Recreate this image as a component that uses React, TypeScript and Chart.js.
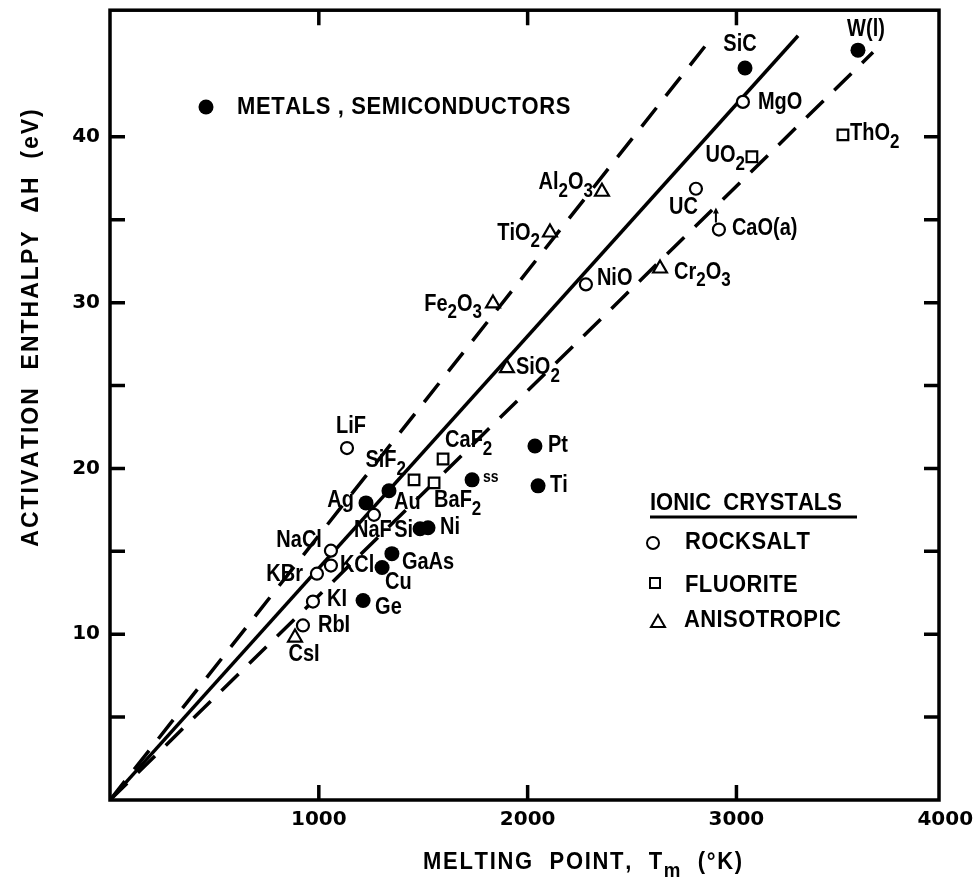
import React, { useEffect, useRef } from "react";
import { Chart, registerables } from "chart.js";

Chart.register(...registerables);

// ---------------- data ----------------
// Metals, semiconductors (filled circles)
const metalNames = ["SiC", "W(l)", "Pt", "Ti", "ss", "Au", "Ag", "Si", "Ni", "GaAs", "Cu", "Ge"];
const metalTm = [3041, 3582, 2035, 2050, 1734, 1336, 1226, 1485, 1523, 1350, 1303, 1212];
const metalDH = [44.15, 45.23, 21.35, 18.95, 19.31, 18.65, 17.92, 16.36, 16.42, 14.86, 14.02, 12.03];

// Ionic crystals - rocksalt (open circles)
const rocksaltNames = ["MgO", "UC", "CaO(a)", "NiO", "LiF", "NaF", "NaCl", "KCl", "KBr", "KI", "RbI"];
const rocksaltTm = [3031, 2806, 2916, 2279, 1135, 1264, 1058, 1058, 991, 972, 924];
const rocksaltDH = [42.11, 36.87, 34.41, 31.1, 21.23, 17.2, 15.04, 14.14, 13.65, 11.97, 10.53];

// Ionic crystals - fluorite (open squares)
const fluoriteNames = ["ThO_2", "UO_2", "CaF_2", "SiF_2", "BaF_2"];
const fluoriteTm = [3510, 3074, 1595, 1456, 1552];
const fluoriteDH = [40.12, 38.8, 20.57, 19.31, 19.13];

// Ionic crystals - anisotropic (open triangles)
const anisoNames = ["Al_2O_3", "TiO_2", "Cr_2O_3", "Fe_2O_3", "SiO_2", "CsI"];
const anisoTm = [2356, 2107, 2634, 1834, 1901, 886];
const anisoDH = [36.69, 34.23, 32.06, 29.95, 26.05, 9.8];

// Guide lines through the origin
const fitTm = [0, 3295];
const fitDH = [0, 46.1];
const upperTm = [0, 2883];
const upperDH = [0, 46.0];
const lowerTm = [0, 3654];
const lowerDH = [0, 45.1];

// Axes
const xTickValues = [1000, 2000, 3000, 4000];
const yTickValues = [10, 20, 30, 40];
const yMinorValues = [5, 15, 25, 35];
const xMin = 0;
const xMax = 3970;
const yMin = 0;
const yMax = 47.64;

// ---------------- label layout (pixel offsets from the mark) ----------------
type LP = [number, number, "l" | "r" | "c", number?];
const metalLabelPos: LP[] = [
  [-5, -23, "c"], [8, -20, "c"], [13, 0, "l"], [12, 0, "l"], [11, -2, "l", 14], [5, 12, "l"],
  [-12, -2, "r"], [-7, 2, "r"], [12, 0, "l"], [10, 9, "l"], [3, 15, "l"], [12, 7, "l"],
];
const rocksaltLabelPos: LP[] = [
  [15, 1, "l"], [2, 19, "r"], [13, -1, "l"], [11, -6, "l"], [4, -21, "c"], [-1, 16, "c"],
  [-9, -10, "r"], [9, 0, "l"], [-14, 1, "r"], [14, -2, "l"], [15, 0, "l"],
];
const fluoriteLabelPos: LP[] = [
  [7, -1, "l"], [-7, -1, "r"], [2, -18, "l"], [-8, -19, "r"], [0, 18, "l"],
];
const anisoLabelPos: LP[] = [
  [-9, -9, "r"], [-10, 1, "r"], [14, 4, "l"], [-11, 1, "r"], [9, 0, "l"], [9, 17, "c"],
];

const FONT = '"Liberation Sans", Arial, sans-serif';

function drawRich(
  ctx: CanvasRenderingContext2D,
  text: string,
  x: number,
  y: number,
  align: "l" | "r" | "c",
  size: number,
  spacing = 0,
  stretch = 1.12
) {
  const parts: { ch: string; sub: boolean }[] = [];
  for (let i = 0; i < text.length; i++) {
    if (text[i] === "_" && i + 1 < text.length) {
      parts.push({ ch: text[i + 1], sub: true });
      i++;
    } else parts.push({ ch: text[i], sub: false });
  }
  const subSize = size * 0.85;
  const widths = parts.map((p) => {
    ctx.font = `bold ${p.sub ? subSize : size}px ${FONT}`;
    return ctx.measureText(p.ch).width;
  });
  const total = widths.reduce((s, w) => s + w, 0) + spacing * (parts.length - 1);
  let cx = align === "l" ? x : align === "r" ? x - total : x - total / 2;
  ctx.save();
  ctx.translate(0, y);
  ctx.scale(1, stretch);
  ctx.textAlign = "left";
  ctx.textBaseline = "middle";
  ctx.fillStyle = "#000";
  parts.forEach((p, i) => {
    ctx.font = `bold ${p.sub ? subSize : size}px ${FONT}`;
    ctx.fillText(p.ch, cx, p.sub ? (size * 0.42) / stretch : 0);
    cx += widths[i] + spacing;
  });
  ctx.restore();
}

const overlay = {
  id: "overlay",
  afterDatasetsDraw(chart: any) {
    const { ctx, chartArea: a, scales } = chart;
    const xs = scales.x;
    const ys = scales.y;
    ctx.save();
    ctx.strokeStyle = "#000";
    ctx.fillStyle = "#000";

    // frame
    ctx.lineWidth = 3.5;
    ctx.strokeRect(a.left, a.top, a.right - a.left, a.bottom - a.top);

    // inward ticks
    const TL = 15;
    ctx.lineWidth = 3.5;
    ctx.beginPath();
    xTickValues
      .filter((v) => v < xMax)
      .forEach((v) => {
        const px = xs.getPixelForValue(v);
        ctx.moveTo(px, a.bottom);
        ctx.lineTo(px, a.bottom - TL);
        ctx.moveTo(px, a.top);
        ctx.lineTo(px, a.top + TL);
      });
    [...yTickValues, ...yMinorValues].forEach((v) => {
      const py = ys.getPixelForValue(v);
      ctx.moveTo(a.left, py);
      ctx.lineTo(a.left + TL, py);
      ctx.moveTo(a.right, py);
      ctx.lineTo(a.right - TL, py);
    });
    ctx.stroke();

    // point labels
    const series: [string[], number[], number[], LP[]][] = [
      [metalNames, metalTm, metalDH, metalLabelPos],
      [rocksaltNames, rocksaltTm, rocksaltDH, rocksaltLabelPos],
      [fluoriteNames, fluoriteTm, fluoriteDH, fluoriteLabelPos],
      [anisoNames, anisoTm, anisoDH, anisoLabelPos],
    ];
    series.forEach(([names, xsv, ysv, pos]) => {
      names.forEach((n, i) => {
        const px = xs.getPixelForValue(xsv[i]);
        const py = ys.getPixelForValue(ysv[i]);
        const [dx, dy, al, sz] = pos[i];
        drawRich(ctx, n, px + dx, py + dy, al, sz ?? 20, 0, 1.15);
      });
    });

    // CaO(a) small upward arrow
    {
      const i = rocksaltNames.indexOf("CaO(a)");
      const px = xs.getPixelForValue(rocksaltTm[i]);
      const py = ys.getPixelForValue(rocksaltDH[i]);
      ctx.lineWidth = 2;
      ctx.beginPath();
      ctx.moveTo(px - 3, py - 7);
      ctx.lineTo(px - 3, py - 18);
      ctx.stroke();
      ctx.beginPath();
      ctx.moveTo(px - 3, py - 22);
      ctx.lineTo(px - 6, py - 16);
      ctx.lineTo(px, py - 16);
      ctx.closePath();
      ctx.fill();
    }

    // legends
    ctx.beginPath();
    ctx.arc(206, 107, 7.5, 0, Math.PI * 2);
    ctx.fill();
    drawRich(ctx, "METALS , SEMICONDUCTORS", 237, 107, "l", 22, 0.6, 1.08);

    drawRich(ctx, "IONIC  CRYSTALS", 650, 503, "l", 22, 0, 1.08);
    ctx.lineWidth = 3;
    ctx.beginPath();
    ctx.moveTo(650, 517);
    ctx.lineTo(857, 517);
    ctx.stroke();

    ctx.lineWidth = 2;
    ctx.beginPath();
    ctx.arc(653, 543, 6, 0, Math.PI * 2);
    ctx.stroke();
    drawRich(ctx, "ROCKSALT", 685, 542, "l", 22, 0.4, 1.08);

    ctx.strokeRect(650, 578, 10, 10);
    drawRich(ctx, "FLUORITE", 685, 585, "l", 22, 0.4, 1.08);

    ctx.beginPath();
    ctx.moveTo(658, 615);
    ctx.lineTo(665, 627);
    ctx.lineTo(651, 627);
    ctx.closePath();
    ctx.stroke();
    drawRich(ctx, "ANISOTROPIC", 684, 620, "l", 22, 0.4, 1.08);

    // axis titles
    drawRich(ctx, "MELTING  POINT,  T_m  (°K)", 423, 862, "l", 22, 1.7, 1.08);
    ctx.save();
    ctx.translate(31, 328);
    ctx.rotate(-Math.PI / 2);
    drawRich(ctx, "ACTIVATION  ENTHALPY  ΔH  (eV)", 0, 0, "c", 23, 2, 1.05);
    ctx.restore();

    ctx.restore();
  },
};

const pts = (xv: number[], yv: number[]) => xv.map((x, i) => ({ x, y: yv[i] }));

export default function App() {
  const ref = useRef<HTMLCanvasElement>(null);
  useEffect(() => {
    if (!ref.current) return;
    const lineBase = {
      showLine: true,
      pointRadius: 0,
      borderColor: "#000",
      borderWidth: 3.5,
      fill: false,
      order: 5,
    };
    const markerBase = { borderColor: "#000", order: 1, hoverRadius: 0 };
    const chart = new Chart(ref.current, {
      type: "scatter",
      data: {
        datasets: [
          { ...lineBase, label: "fit", data: pts(fitTm, fitDH) } as any,
          { ...lineBase, label: "upper", borderDash: [24, 15], data: pts(upperTm, upperDH) } as any,
          { ...lineBase, label: "lower", borderDash: [24, 15], data: pts(lowerTm, lowerDH) } as any,
          {
            ...markerBase,
            label: "Metals, semiconductors",
            data: pts(metalTm, metalDH),
            pointStyle: "circle",
            pointRadius: 7.5,
            backgroundColor: "#000",
            borderWidth: 0,
          } as any,
          {
            ...markerBase,
            label: "Rocksalt",
            data: pts(rocksaltTm, rocksaltDH),
            pointStyle: "circle",
            pointRadius: 6,
            backgroundColor: "#fff",
            borderWidth: 2.2,
          } as any,
          {
            ...markerBase,
            label: "Fluorite",
            data: pts(fluoriteTm, fluoriteDH),
            pointStyle: "rect",
            pointRadius: 7.5,
            backgroundColor: "#fff",
            borderWidth: 2.2,
          } as any,
          {
            ...markerBase,
            label: "Anisotropic",
            data: pts(anisoTm, anisoDH),
            pointStyle: "triangle",
            pointRadius: 8,
            backgroundColor: "#fff",
            borderWidth: 2.2,
          } as any,
        ],
      },
      options: {
        responsive: false,
        animation: false,
        devicePixelRatio: 1,
        events: [],
        layout: { padding: { top: 8, right: 37, left: 0, bottom: 0 } },
        plugins: { legend: { display: false }, tooltip: { enabled: false } },
        scales: {
          x: {
            type: "linear",
            min: xMin,
            max: xMax,
            grid: { display: false, drawTicks: false },
            border: { display: false },
            ticks: {
              autoSkip: false,
              color: "#000",
              padding: 8,
              font: { family: "DejaVu Sans", weight: "bold", size: 20 },
              callback: (v: any) => String(v),
            },
            afterBuildTicks: (s: any) => {
              s.ticks = xTickValues.map((v) => ({ value: v }));
            },
            afterFit: (s: any) => {
              s.height = 79;
              s.paddingLeft = 0;
              s.paddingRight = 0;
            },
          },
          y: {
            type: "linear",
            min: yMin,
            max: yMax,
            grid: { display: false, drawTicks: false },
            border: { display: false },
            ticks: {
              autoSkip: false,
              color: "#000",
              padding: 10,
              font: { family: "DejaVu Sans", weight: "bold", size: 20 },
              callback: (v: any) => String(v),
            },
            afterBuildTicks: (s: any) => {
              s.ticks = yTickValues.map((v) => ({ value: v }));
            },
            afterFit: (s: any) => {
              s.width = 110;
              s.paddingTop = 0;
              s.paddingBottom = 0;
            },
          },
        },
      } as any,
      plugins: [overlay],
    });
    return () => chart.destroy();
  }, []);
  return (
    <div style={{ position: "absolute", left: 0, top: 0, width: 976, height: 879, background: "#fff" }}>
      <canvas ref={ref} width={976} height={879} style={{ display: "block" }} />
    </div>
  );
}
